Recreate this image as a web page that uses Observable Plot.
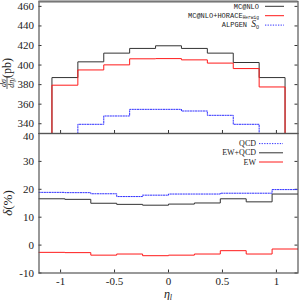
<!DOCTYPE html>
<html><head><meta charset="utf-8">
<script src="https://cdn.jsdelivr.net/npm/d3@7"></script>
<script src="https://cdn.jsdelivr.net/npm/@observablehq/plot@0.6"></script>
<style>body{margin:0;background:#fff} #chart svg{display:block}</style>
</head><body><div id="chart"></div>
<script>
// ---- data ----
const topEdges = [-1.08, -0.84, -0.6, -0.36, -0.12, 0.12, 0.36, 0.6, 0.84, 1.08];
const mcnlo  = [387.2, 403.3, 412.2, 417.0, 419.7, 417.0, 412.2, 402.6, 387.2];
const horace = [379.4, 395.0, 400.2, 406.4, 406.6, 405.3, 402.0, 396.4, 377.6];
const alpgen = [325.0, 339.4, 347.9, 354.7, 354.7, 353.0, 348.6, 339.4, 325.0];

const botEdges = [-1.2, -0.96, -0.72, -0.48, -0.24, 0, 0.24, 0.48, 0.72, 0.96, 1.2];
const qcd   = [18.9, 18.8, 18.4, 17.4, 17.9, 18.3, 18.3, 18.6, 18.6, 19.9];
const ewqcd = [16.6, 16.4, 15.0, 14.6, 14.3, 14.7, 15.1, 16.6, 15.5, 18.3];
const ew    = [-2.6, -2.7, -3.6, -3.2, -3.8, -3.6, -3.2, -2.0, -3.2, -1.4];

const xTicks = [-1, -0.5, 0, 0.5, 1];
const topYTicks = [340, 360, 380, 400, 420, 440, 460];
const botYTicks = [-10, 0, 10, 20, 30, 40];

// ---- layout ----
const W = 300, ML = 38.5, MR = 2.5;
const topH = 133, botH = 167, botMB = 27.5;
const xDomain = [-1.2, 1.2], topDomain = [330, 465], botDomain = [-10, 40];
const frameW = W - ML - MR;
const serif = "'Liberation Serif', 'Times New Roman', serif";
const mono = "'Liberation Mono', 'DejaVu Sans Mono', monospace";
const cBlack = "#333", cRed = "#ff1a1a", cBlue = "#3030ff";

function steps(edges, vals, base) {
  const pts = edges.map((e, i) => ({x: e, y: vals[Math.min(i, vals.length - 1)]}));
  if (base !== undefined) {
    pts.unshift({x: edges[0], y: base});
    pts.push({x: edges[edges.length - 1], y: base});
  }
  return pts;
}

const topPlot = Plot.plot({
  width: W, height: topH, marginLeft: ML, marginRight: MR, marginTop: 1, marginBottom: 0,
  x: {domain: xDomain, axis: null},
  y: {domain: topDomain},
  style: {fontFamily: serif, fontSize: "11px", background: "transparent", overflow: "visible", color: "#222"},
  marks: [
    Plot.axisY({ticks: topYTicks, tickSize: 0, tickPadding: 5, label: null, tickFormat: d => String(d)}),
    Plot.tickY(topYTicks, {y: d => d, insetRight: frameW - 3, stroke: cBlack}),
    Plot.tickY(topYTicks, {y: d => d, insetLeft: frameW - 3, stroke: cBlack}),
    Plot.tickX(xTicks, {x: d => d, insetTop: topH - 1 - 3, stroke: cBlack}),
    Plot.line(steps(topEdges, alpgen), {x: "x", y: "y", curve: "step-after", stroke: cBlue, strokeWidth: 1, strokeDasharray: "1.3,1.3", clip: true}),
    Plot.line(steps(topEdges, mcnlo, topDomain[0]), {x: "x", y: "y", curve: "step-after", stroke: cBlack, strokeWidth: 1}),
    Plot.line(steps(topEdges, horace, topDomain[0]), {x: "x", y: "y", curve: "step-after", stroke: cRed, strokeWidth: 1}),
    Plot.frame({stroke: "#555", strokeWidth: 1.2}),
    Plot.ruleY([topDomain[1]], {stroke: "#777", strokeWidth: 2})
  ]
});

const botTop = botYTicks[botYTicks.length - 1];
const botPlot = Plot.plot({
  width: W, height: botH, marginLeft: ML, marginRight: MR, marginTop: 0, marginBottom: botMB,
  x: {domain: xDomain},
  y: {domain: botDomain},
  style: {fontFamily: serif, fontSize: "11px", background: "transparent", overflow: "visible", color: "#222"},
  marks: [
    Plot.axisY({ticks: botYTicks.filter(d => d !== botTop), tickSize: 0, tickPadding: 5, label: null, tickFormat: d => String(d)}),
    Plot.axisY({ticks: [botTop], tickSize: 0, tickPadding: 5, dy: 2.5, label: null, tickFormat: d => String(d)}),
    Plot.axisX({ticks: xTicks, tickSize: 0, tickPadding: 4, label: null, tickFormat: d => String(d)}),
    Plot.tickY(botYTicks, {y: d => d, insetRight: frameW - 3, stroke: cBlack}),
    Plot.tickY(botYTicks, {y: d => d, insetLeft: frameW - 3, stroke: cBlack}),
    Plot.tickX(xTicks, {x: d => d, insetTop: botH - botMB - 3, stroke: cBlack}),
    Plot.line(steps(botEdges, qcd), {x: "x", y: "y", curve: "step-after", stroke: cBlue, strokeWidth: 1, strokeDasharray: "1.3,1.3"}),
    Plot.line(steps(botEdges, ewqcd), {x: "x", y: "y", curve: "step-after", stroke: cBlack, strokeWidth: 1}),
    Plot.line(steps(botEdges, ew), {x: "x", y: "y", curve: "step-after", stroke: cRed, strokeWidth: 1}),
    Plot.frame({stroke: "#555", strokeWidth: 1.2})
  ]
});

// ---- labels & legends ----
function legend(svg, entries, textEnd, x1, x2, y0, step, fontFamily, fontSize) {
  entries.forEach((e, i) => {
    const y = y0 + i * step;
    const t = svg.append("text").attr("x", textEnd).attr("y", y + fontSize * 0.33)
      .attr("text-anchor", "end").attr("font-family", fontFamily).attr("font-size", fontSize).attr("fill", "#222");
    e.parts.forEach(p => {
      const ts = t.append("tspan").text(p.t);
      if (p.size) ts.attr("font-size", p.size);
      if (p.sub) ts.attr("font-size", p.size || fontSize * 0.65).attr("dy", 1.2);
      if (p.font) ts.attr("font-family", p.font);
      if (p.italic) ts.attr("font-style", "italic");
    });
    svg.append("line").attr("x1", x1).attr("x2", x2).attr("y1", y).attr("y2", y)
      .attr("stroke", e.stroke).attr("stroke-width", 1).attr("stroke-dasharray", e.dash || null);
  });
}

const ts = d3.select(topPlot);
legend(ts, [
  {parts: [{t: "MC@NLO"}], stroke: cBlack},
  {parts: [{t: "MC@NLO+HORACE"}, {t: "Herwig", sub: true}], stroke: cRed},
  {parts: [{t: "ALPGEN "}, {t: "S", font: serif, italic: true, size: 9.5}, {t: "0", sub: true, font: serif, size: 6}], stroke: cBlue, dash: "1.3,1.3"}
], 259, 265, 284, 6.3, 9.4, mono, 7);

// y label top: dσ/dη_l (pb)
const gy = ts.append("g").attr("transform", "translate(7,70) rotate(-90)")
  .attr("font-family", serif).attr("fill", "#222");
gy.append("text").attr("x", -13).attr("y", -1.5).attr("text-anchor", "middle").attr("font-size", 8).attr("font-style", "italic").text("dσ");
gy.append("line").attr("x1", -19).attr("x2", -7).attr("y1", 0).attr("y2", 0).attr("stroke", "#222").attr("stroke-width", 0.7);
const den = gy.append("text").attr("x", -13).attr("y", 6.5).attr("text-anchor", "middle").attr("font-size", 8).attr("font-style", "italic");
den.append("tspan").text("dη");
den.append("tspan").attr("font-size", 5.5).attr("dy", 1.5).text("l");
gy.append("text").attr("x", 2).attr("y", 4).attr("font-size", 12).text("(pb)");

const bs = d3.select(botPlot);
legend(bs, [
  {parts: [{t: "QCD"}], stroke: cBlue, dash: "1.3,1.3"},
  {parts: [{t: "EW+QCD"}], stroke: cBlack},
  {parts: [{t: "EW"}], stroke: cRed}
], 256, 259, 283, 10.6, 9.2, serif, 8);

bs.append("text").attr("transform", "translate(12,70) rotate(-90)").attr("text-anchor", "middle")
  .attr("font-family", serif).attr("font-size", 13).attr("fill", "#222")
  .call(t => { t.append("tspan").attr("font-style", "italic").text("δ"); t.append("tspan").text("(%)"); });

const xl = bs.append("text").attr("x", ML + frameW / 2).attr("y", botH - 2.5).attr("text-anchor", "middle")
  .attr("font-family", serif).attr("font-size", 12).attr("fill", "#222");
xl.append("tspan").attr("font-style", "italic").text("η");
xl.append("tspan").attr("font-style", "italic").attr("font-size", 8).attr("dy", 2).text("l");

document.getElementById("chart").append(topPlot, botPlot);
</script>
</body></html>
